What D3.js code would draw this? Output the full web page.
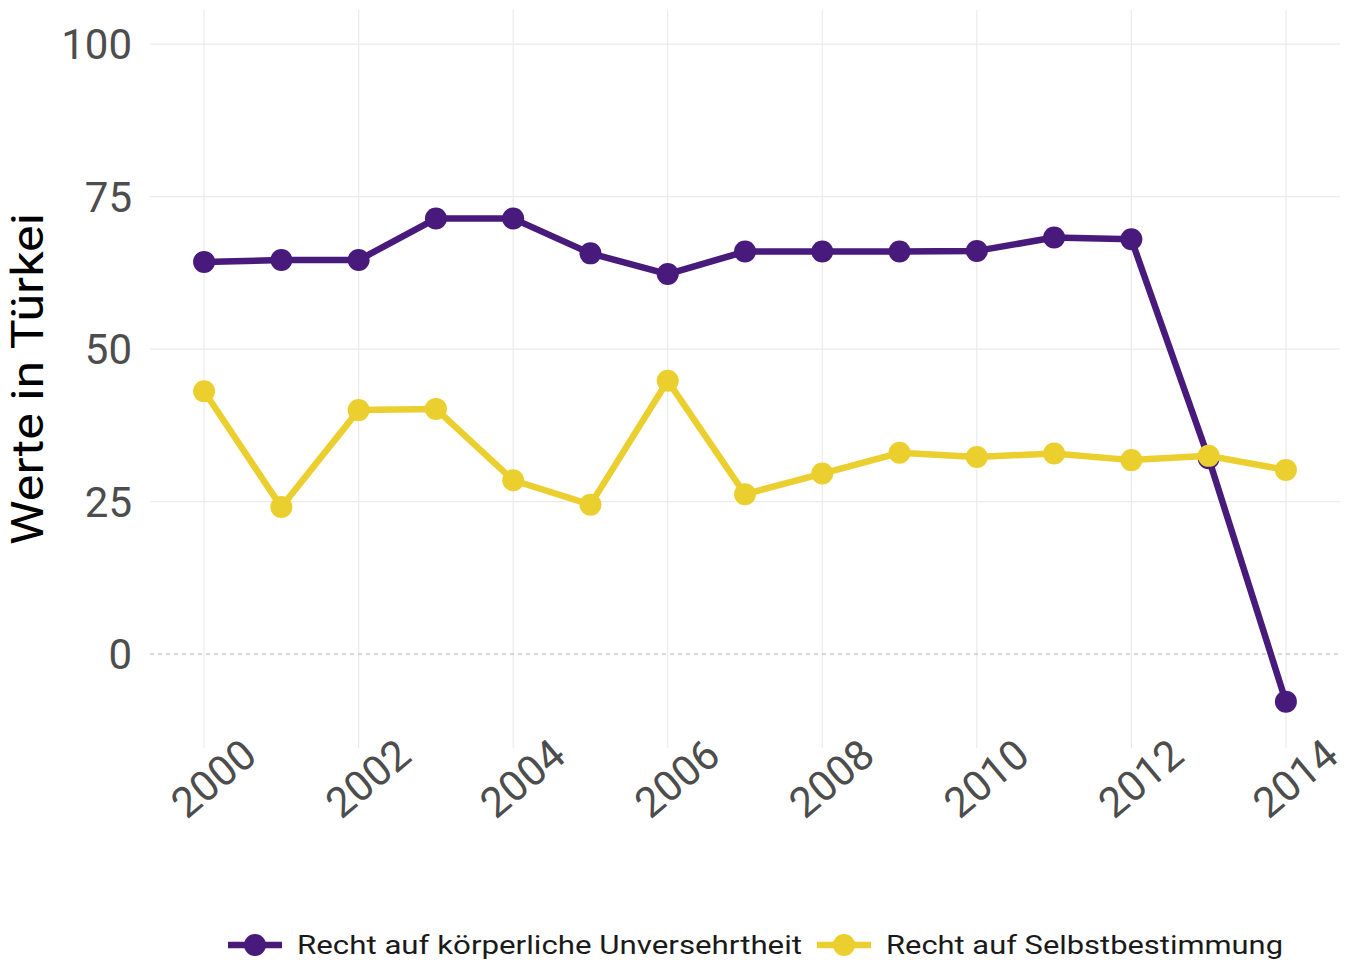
<!DOCTYPE html>
<html>
<head>
<meta charset="utf-8">
<script src="https://cdn.jsdelivr.net/npm/d3@7"></script>
<style>
  body { margin: 0; background: #fff; }
  svg { display: block; }
</style>
</head>
<body>
<div id="chart"></div>
<script>
var years = [2000, 2001, 2002, 2003, 2004, 2005, 2006, 2007, 2008, 2009, 2010, 2011, 2012, 2013, 2014];
var koerper = [64.3, 64.6, 64.6, 71.4, 71.4, 65.7, 62.3, 66.0, 66.0, 66.0, 66.1, 68.3, 68.0, 32.1, -7.8];
var selbst = [43.1, 24.1, 40.0, 40.2, 28.5, 24.5, 44.8, 26.2, 29.6, 33.0, 32.3, 32.9, 31.8, 32.5, 30.2];
var seriesNames = ["Recht auf körperliche Unversehrtheit", "Recht auf Selbstbestimmung"];
var seriesColors = ["#471a7b", "#ebcf2e"];
var yTicks = [0, 25, 50, 75, 100];
var xTicks = [2000, 2002, 2004, 2006, 2008, 2010, 2012, 2014];

var width = 1353,
    height = 960;

var svg = d3.select("#chart").append("svg")
    .attr("width", width)
    .attr("height", height);

var x = d3.scaleLinear().domain([1999.3, 2014.7]).range([150, 1340]),
    y = d3.scaleLinear().domain([-15.4, 105.6]).range([748, 10]);

// grid
svg.append("g").selectAll("line")
  .data(xTicks)
  .enter().append("line")
    .attr("x1", function(d) { return x(d); })
    .attr("x2", function(d) { return x(d); })
    .attr("y1", 10).attr("y2", 748)
    .attr("stroke", "#ebebeb").attr("stroke-width", 1.2);

svg.append("g").selectAll("line")
  .data(yTicks.filter(function(d) { return d != 0; }))
  .enter().append("line")
    .attr("x1", 150).attr("x2", 1340)
    .attr("y1", function(d) { return y(d); })
    .attr("y2", function(d) { return y(d); })
    .attr("stroke", "#ebebeb").attr("stroke-width", 1.2);

svg.append("line")
    .attr("x1", 150).attr("x2", 1340)
    .attr("y1", y(0)).attr("y2", y(0))
    .attr("stroke", "#b3b3b3").attr("stroke-width", 1)
    .attr("stroke-dasharray", "4,4");

// axis labels
svg.append("g").selectAll("text")
  .data(yTicks)
  .enter().append("text")
    .attr("x", 132)
    .attr("y", function(d) { return y(d); })
    .attr("dy", "0.36em")
    .attr("text-anchor", "end")
    .attr("font-family", "Roboto, sans-serif")
    .attr("font-size", 42)
    .attr("fill", "#4d4d4d")
    .text(function(d) { return d; });

svg.append("g").selectAll("text")
  .data(xTicks)
  .enter().append("text")
    .attr("transform", function(d) { return "translate(" + (x(d) + 9) + ",778) rotate(-40)"; })
    .attr("dy", "0.36em")
    .attr("text-anchor", "middle")
    .attr("font-family", "Roboto, sans-serif")
    .attr("font-size", 42)
    .attr("fill", "#4d4d4d")
    .text(function(d) { return d; });

svg.append("text")
    .attr("transform", "translate(43,379) rotate(-90)")
    .attr("text-anchor", "middle")
    .attr("font-family", "Roboto, sans-serif")
    .attr("font-size", 44)
    .attr("fill", "#000")
    .attr("textLength", 332)
    .attr("lengthAdjust", "spacingAndGlyphs")
    .text("Werte in Türkei");

// lines + points
var line = d3.line()
    .x(function(d) { return x(d.year); })
    .y(function(d) { return y(d.value); });

[koerper, selbst].forEach(function(vals, i) {
  var data = years.map(function(yr, j) { return {year: yr, value: vals[j]}; });
  var g = svg.append("g");
  g.append("path")
      .datum(data)
      .attr("fill", "none")
      .attr("stroke", seriesColors[i])
      .attr("stroke-width", 6.5)
      .attr("stroke-linejoin", "round")
      .attr("d", line);
  g.selectAll("circle")
    .data(data)
    .enter().append("circle")
      .attr("cx", function(d) { return x(d.year); })
      .attr("cy", function(d) { return y(d.value); })
      .attr("r", 11)
      .attr("fill", seriesColors[i]);
});

// legend
var legendX = [228, 817],
    legendLen = [505, 397];
var lg = svg.append("g").selectAll("g")
  .data(seriesNames)
  .enter().append("g")
    .attr("transform", function(d, i) { return "translate(" + legendX[i] + ",945)"; });

lg.append("line")
    .attr("x1", 0).attr("x2", 54)
    .attr("stroke", function(d, i) { return seriesColors[i]; })
    .attr("stroke-width", 6.5);
lg.append("circle")
    .attr("cx", 27).attr("r", 11)
    .attr("fill", function(d, i) { return seriesColors[i]; });
lg.append("text")
    .attr("x", 69)
    .attr("dy", "0.36em")
    .attr("font-family", "Roboto, sans-serif")
    .attr("font-size", 26)
    .attr("fill", "#1a1a1a")
    .attr("textLength", function(d, i) { return legendLen[i]; })
    .attr("lengthAdjust", "spacingAndGlyphs")
    .text(function(d) { return d; });
</script>
</body>
</html>
